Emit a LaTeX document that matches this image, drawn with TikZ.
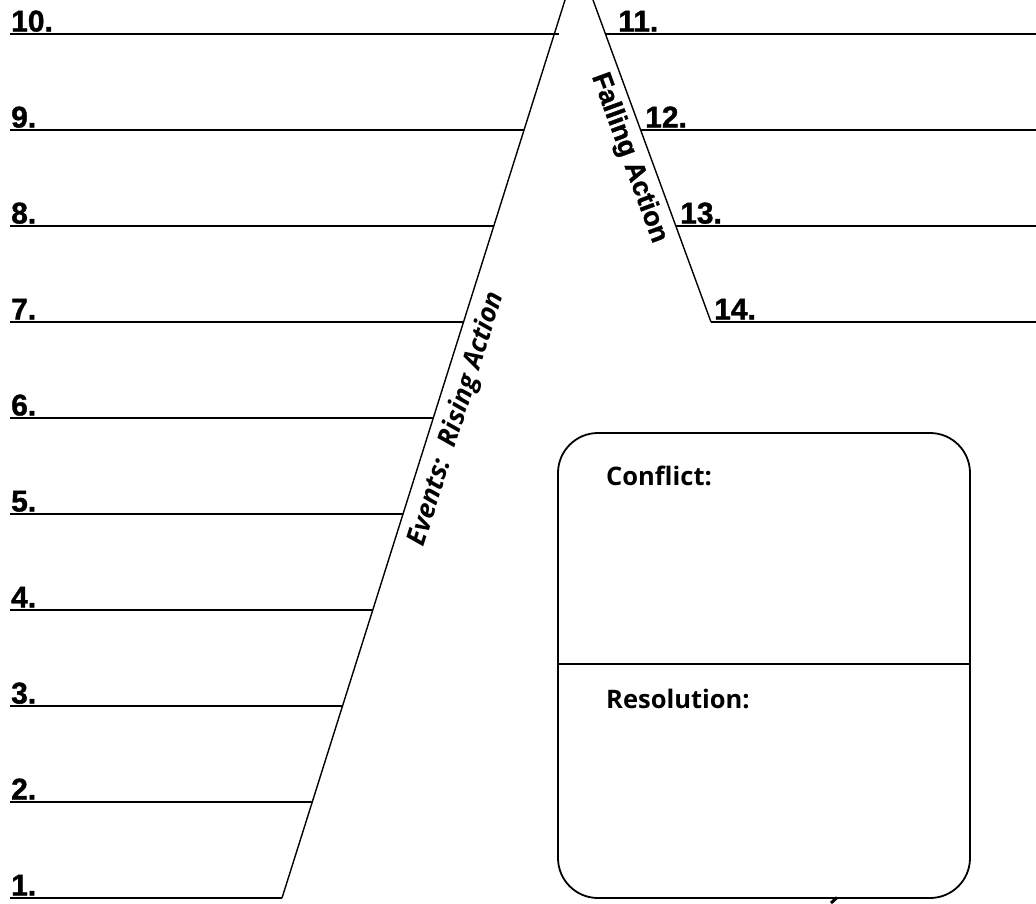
\documentclass[tikz,border=0pt]{standalone}
\usepackage{fontspec}
\setmainfont{Liberation Sans}
\newfontfamily\numfont[FakeBold=1.2]{Liberation Sans Bold}
\newfontfamily\boxfont{Open Sans}
\begin{document}
\begin{tikzpicture}[x=1pt,y=-1pt,
  rule/.style={line width=1.4pt},
  numlbl/.style={inner sep=0pt, anchor=base west, font=\numfont\fontsize{30}{36}\selectfont},
  slantlbl/.style={inner sep=0pt, font=\numfont\fontsize{27}{30}\selectfont},
  boxlbl/.style={inner sep=0pt, anchor=base west, font=\boxfont\fontsize{25.5}{30}\selectfont\bfseries},
  panel/.style={draw, line width=1.8pt, rounded corners=40pt, inner sep=0pt,
                minimum width=412pt, minimum height=465pt}]
\useasboundingbox (0,0) rectangle (1036,903);

% rising side of the plot mountain
\coordinate (riseBot) at (282,898);
\coordinate (riseTop) at (565,0);
\draw[rule] (riseBot) -- (riseTop);

% falling side
\coordinate (fallTop) at (593,0);
\coordinate (fallBot) at (711,322);
\draw[rule] (fallTop) -- (fallBot);

% event lines 1-10 on the rising side
\foreach \k in {1,...,10} {
  \pgfmathsetmacro{\yy}{898-(\k-1)*96}
  \pgfmathsetmacro{\xe}{565-0.3151*\yy}
  \coordinate (ev\k s) at (10,\yy);
  \coordinate (ev\k e) at (\xe,\yy);
  \node[numlbl] (ev\k lbl) at (11,\yy-2.5) {\k.};
}
\foreach \k in {1,...,9} { \draw[rule] (ev\k s) -- (ev\k e); }
\coordinate (ev10x) at (559,34);
\draw[rule] (ev10s) -- (ev10x);

% event lines 11-14 on the falling side
\foreach \k/\yy/\lx in {11/34/618, 12/130/645, 13/226/680, 14/322/714} {
  \pgfmathsetmacro{\xs}{593+0.3665*\yy}
  \coordinate (ev\k s) at (\xs,\yy);
  \coordinate (ev\k e) at (1036,\yy);
  \draw[rule] (ev\k s) -- (ev\k e);
  \node[numlbl] (ev\k lbl) at (\lx,\yy-2.5) {\k.};
}

% labels along the two slopes
\node[inner sep=0pt, font=\boxfont\fontsize{26.5}{30}\selectfont\bfseries\itshape, rotate=72.5]
  (riseLbl) at (457,419) {Events:\ \ Rising Action};
\node[slantlbl, rotate=-69.9] (fallLbl) at (629,158) {Falling Action};

% conflict / resolution panel
\node[panel] (panel) at (764,665.5) {};
\coordinate (divY) at (764,664);
\draw[line width=1.8pt] (panel.west |- divY) -- (panel.east |- divY);
\node[boxlbl] (conflict) at (606,485) {Conflict:};
\node[boxlbl] (resolution) at (606,708) {Resolution:};

% small pen mark under the panel
\coordinate (markA) at (831,903);
\coordinate (markB) at (837,897.5);
\draw[line width=3pt] (markA) -- (markB);
\end{tikzpicture}
\end{document}
